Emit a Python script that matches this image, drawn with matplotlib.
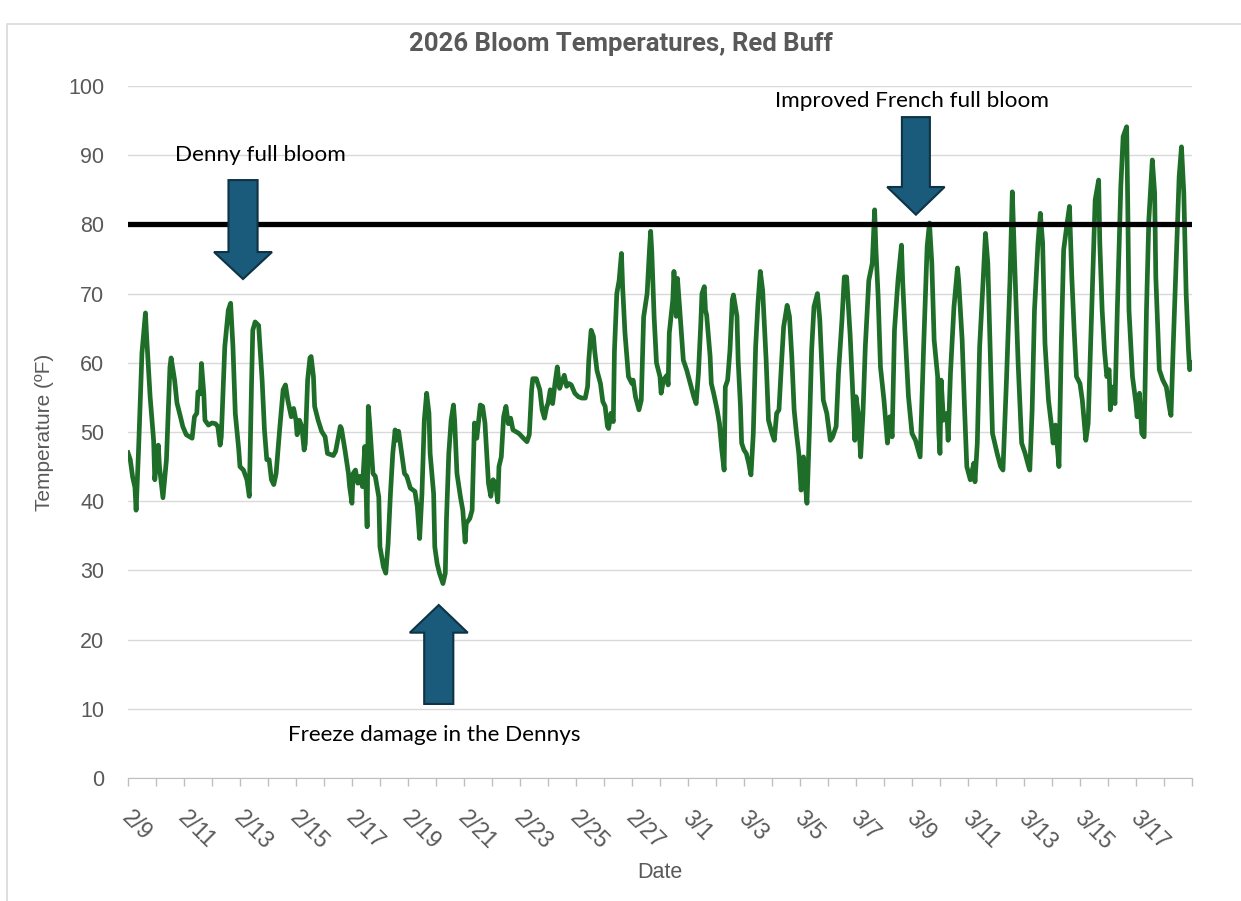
import matplotlib
matplotlib.use("Agg")
import matplotlib.pyplot as plt
from matplotlib.patches import FancyArrow, Rectangle

# hours after 2/9 00:00, temperature (F)
hours = [0, 2, 4, 6, 7, 9, 12, 15, 16, 19, 22, 23, 26, 27, 30, 33, 36, 37, 40, 42,
         45, 47, 50, 55, 57, 59, 60, 62, 63, 65, 66, 69, 72, 75, 77, 79, 80, 83, 86, 88,
         90, 92, 95, 96, 99, 102, 104, 106, 107, 109, 112, 115, 117, 119, 121, 123, 125, 127, 130, 133,
         135, 137, 140, 142, 144, 145, 147, 149, 151, 152, 154, 156, 157, 159, 160, 163, 166, 169, 171, 176,
         178, 182, 183, 186, 189, 190, 192, 193, 195, 197, 199, 201, 203, 205, 206, 207, 210, 212, 215, 216,
         219, 221, 223, 225, 227, 229, 230, 232, 235, 237, 239, 242, 246, 248, 250, 252, 254, 256, 258, 259,
         262, 263, 265, 267, 270, 272, 273, 275, 277, 279, 280, 282, 285, 287, 289, 290, 293, 295, 297, 299,
         302, 304, 306, 309, 311, 313, 315, 317, 318, 320, 322, 324, 326, 328, 330, 335, 339, 342, 344, 346,
         347, 350, 353, 355, 357, 359, 360, 362, 364, 366, 368, 370, 372, 374, 376, 378, 380, 383, 386, 389,
         392, 394, 395, 397, 399, 400, 402, 405, 407, 409, 411, 412, 414, 416, 417, 419, 421, 423, 424, 426,
         429, 432, 433, 435, 438, 440, 442, 445, 447, 448, 449, 451, 453, 456, 457, 459, 462, 463, 464, 467,
         468, 470, 471, 473, 476, 479, 482, 485, 487, 489, 491, 492, 494, 495, 496, 499, 500, 502, 505, 507,
         509, 511, 512, 514, 516, 518, 519, 522, 523, 525, 526, 528, 530, 532, 534, 536, 538, 540, 542, 544,
         547, 549, 552, 554, 556, 558, 560, 562, 565, 567, 569, 571, 573, 575, 577, 579, 581, 582, 584, 586,
         588, 591, 593, 596, 599, 602, 604, 607, 609, 612, 614, 616, 619, 621, 623, 624, 626, 628, 630, 632,
         635, 638, 640, 641, 643, 645, 648, 651, 653, 655, 657, 660, 663, 664, 666, 669, 672, 675, 679, 682,
         685, 687, 689, 691, 694, 695, 696, 697, 699, 702, 703, 705, 708, 711, 712, 715, 717, 719, 722, 725,
         726, 728, 730, 733, 735, 737, 739, 741, 745, 748, 750, 753, 756, 758, 760, 763, 766, 769, 772, 773,
         775, 777, 780, 782, 784, 786, 789, 792, 793, 795, 798, 800, 802, 805, 807, 809, 811, 813, 816, 818,
         821, 823, 826, 829, 832, 833, 835, 837, 839, 841, 842, 844, 846, 848, 851, 853, 856, 857, 858, 861,
         864, 865, 867, 869, 871, 873, 875, 878, 880, 881, 884, 887, 890, 893, 894, 896, 899, 901, 903, 905,
         907, 909, 910, 912]
temps = [47, 46, 43.5, 42, 38.7, 47, 61.4, 67.2, 63.8, 55.1, 48.8, 43.1, 48.1, 45, 40.5, 46, 59.4, 60.7, 57.5, 54.2,
         52.2, 50.8, 49.6, 49.1, 52.2, 52.7, 55.8, 55.5, 59.9, 55.6, 51.7, 51.0, 51.3, 51.2, 50.8, 48.1, 49.3, 62.3, 67.6, 68.6,
         62.3, 52.7, 47.4, 45.0, 44.5, 43.1, 40.7, 57.5, 64.7, 65.9, 65.4, 57.5, 50.3, 46, 46, 43.1, 42.4, 44, 50.3, 56.1,
         56.8, 54.6, 52.2, 53.4, 51.7, 49.6, 51.7, 50.8, 47.4, 48.3, 57.5, 60.7, 60.9, 58, 53.7, 51.7, 50.1, 49.3, 46.9, 46.6,
         47.2, 50.8, 50.5, 47.4, 44.0, 42.1, 39.7, 44.0, 44.5, 42.6, 43.6, 42.1, 47.9, 36.3, 53.7, 51.7, 44.0, 43.6, 40.6, 33.4,
         30.5, 29.6, 33.9, 41.1, 46.9, 50.3, 48.8, 50.1, 46.4, 44.0, 43.6, 41.9, 41.4, 39.2, 34.6, 41.1, 51.7, 55.6, 52.7, 46.9,
         41.1, 33.4, 31.0, 29.6, 28.1, 29.6, 37.3, 46.9, 51.7, 53.9, 51.7, 44.0, 40.6, 38.7, 34.1, 36.8, 37.5, 38.7, 51.3, 49.1,
         53.9, 53.7, 51.3, 42.6, 40.7, 43.1, 42.6, 39.9, 45, 46.4, 52.2, 53.7, 51.2, 52, 50.3, 49.8, 49.1, 48.6, 49.6, 56.1,
         57.7, 57.7, 56.1, 53.2, 52.0, 53.7, 54.1, 56.1, 54.1, 57.0, 59.4, 56.3, 57.3, 58.2, 56.6, 57.0, 56.8, 55.6, 55.1, 54.9,
         54.9, 56.6, 60.4, 64.7, 63.8, 61.8, 58.9, 57.0, 54.4, 53.7, 50.8, 50.5, 52.7, 51.5, 61.8, 70, 71.9, 75.8, 71, 64.3,
         58.0, 57.0, 57.5, 55.1, 53.2, 54.6, 66.6, 70, 76.3, 79, 76, 66.6, 60, 58.0, 55.6, 57.5, 58.2, 56.8, 64.3, 69.1,
         73.2, 66.7, 72.2, 67.6, 60.4, 58.9, 57.0, 55.1, 54.1, 58.5, 65.7, 70.0, 71.0, 67.6, 66.9, 60.9, 57.0, 55.6, 53.2, 51.2,
         47.4, 44.5, 56.5, 57.5, 61.8, 69.1, 69.8, 66.7, 60.4, 53.7, 48.4, 47.4, 46.9, 45.5, 43.8, 49.8, 62.3, 68.6, 73.2, 70.5,
         60.4, 51.7, 49.8, 48.8, 52.7, 53.2, 59.4, 65.2, 68.3, 66.7, 60.9, 53.2, 49.8, 46.9, 41.6, 46.4, 41.6, 39.7, 49.8, 61.8,
         68.1, 70.0, 66.2, 54.6, 52.7, 48.8, 49.3, 50.8, 58.5, 66.2, 72.4, 72.4, 64, 56.6, 48.8, 55.1, 52.7, 46.4, 52.7, 62.3,
         71.9, 74.4, 82.1, 76.8, 69.6, 59.4, 54.6, 48.4, 52.2, 49.3, 64.7, 71.9, 77, 71.9, 64.7, 55.1, 49.8, 48.8, 46.4, 62.3,
         76.8, 80.2, 74.4, 63.3, 58.0, 49.8, 46.9, 57.5, 51.7, 52.7, 48.8, 58.5, 68.1, 73.7, 71.9, 63.3, 53.7, 45.0, 43.1, 45.5,
         42.8, 48.4, 62.3, 71.9, 78.7, 74.4, 62.3, 49.8, 46.9, 45.0, 44.5, 57.5, 71.9, 84.7, 74.4, 59.9, 48.4, 46.9, 45.0, 44.5,
         53.2, 67.6, 77.3, 81.6, 77.3, 62.8, 54.6, 50.3, 48.4, 51.0, 45, 62.8, 76.3, 80.2, 82.6, 72.4, 64.7, 58.0, 57.0, 54.6,
         48.8, 51.2, 67.6, 83.5, 86.4, 77.3, 67.6, 61.8, 58, 59, 53.2, 56.5, 54.1, 67.6, 85.5, 92.7, 94.1, 82.1, 67.6, 58.0,
         54.1, 52.2, 55.6, 49.8, 49.3, 67.6, 80.6, 89.3, 84.5, 72.4, 59.0, 57.5, 56.5, 53.2, 52.4, 62.8, 77.3, 86.9, 91.2, 84.5,
         70.0, 61.8, 59.0, 60]

date_labels = ["2/9", "2/11", "2/13", "2/15", "2/17", "2/19", "2/21", "2/23", "2/25", "2/27",
               "3/1", "3/3", "3/5", "3/7", "3/9", "3/11", "3/13", "3/15", "3/17"]
n_days = 38
threshold = 80

gray = "#595959"
days = [h / 24 for h in hours]

fig = plt.figure(figsize=(12.41, 9.01), dpi=100)
ax = fig.add_axes([0.1031, 0.1365, 0.8574, 0.7681])

fig.patches.append(Rectangle((0.0056, -0.01), 1.1, 0.983, transform=fig.transFigure,
                             fill=False, edgecolor="#d9d9d9", linewidth=1.2))

ax.plot(days, temps, color="#1e6e29", linewidth=3.4, solid_joinstyle="round", zorder=3)
ax.axhline(threshold, color="black", linewidth=3.8, zorder=4)

ax.set_xlim(0, n_days)
ax.set_ylim(0, 100)
ax.set_yticks(range(0, 101, 10))
ax.grid(axis="y", color="#d9d9d9", linewidth=1.0)
ax.set_axisbelow(True)

for s in ["top", "right", "left"]:
    ax.spines[s].set_visible(False)
ax.spines["bottom"].set_color("#bfbfbf")
ax.spines["bottom"].set_zorder(1)

ax.set_xticks([i * 2 + 0.2 for i in range(len(date_labels))])
ax.set_xticklabels(date_labels)
ax.set_xticks(range(n_days + 1), minor=True)
ax.tick_params(axis="x", which="major", length=0, pad=20, labelsize=16.5, labelcolor=gray)
ax.tick_params(axis="x", which="minor", length=6, color="#bfbfbf", width=1)
ax.tick_params(axis="y", length=0, pad=17, labelsize=15.5, labelcolor=gray)
for lab in ax.get_xticklabels():
    lab.set_fontfamily("Liberation Sans")
    lab.set_rotation(-45)
    lab.set_ha("left")
    lab.set_va("top")
    lab.set_rotation_mode("anchor")
for lab in ax.get_yticklabels():
    lab.set_fontfamily("Liberation Sans")

ax.set_xlabel("Date", fontsize=15.5, color=gray, family="Liberation Sans", labelpad=6)
ax.set_ylabel("Temperature (ºF)", fontsize=15, color=gray, family="Liberation Sans", labelpad=10)
fig.suptitle("2026 Bloom Temperatures, Red Buff", x=0.5, y=0.965, fontsize=18.5,
             fontweight="bold", color=gray, family=["Liberation Sans Narrow", "Roboto"])

# annotations with block arrows
arrow_kw = dict(facecolor="#1a5a7a", edgecolor="#0e3345", linewidth=1.5, zorder=5,
                length_includes_head=True)
ax.add_patch(FancyArrow(4.11, 86.4, 0, -14.3, width=1.04, head_width=2.07,
                        head_length=3.9, **arrow_kw))
ax.add_patch(FancyArrow(28.14, 95.5, 0, -14.1, width=1.0, head_width=2.05,
                        head_length=4.0, **arrow_kw))
ax.add_patch(FancyArrow(11.1, 10.7, 0, 14.3, width=1.04, head_width=2.07,
                        head_length=4.0, **arrow_kw))

ann_kw = dict(fontsize=16.2, color="black", family="Lato", ha="center", va="center", zorder=6)
ax.text(4.73, 90.0, "Denny full bloom", **ann_kw)
ax.text(28.0, 97.8, "Improved French full bloom", **ann_kw)
ax.text(10.93, 6.2, "Freeze damage in the Dennys", **ann_kw)

fig.savefig("out.png", dpi=100)
